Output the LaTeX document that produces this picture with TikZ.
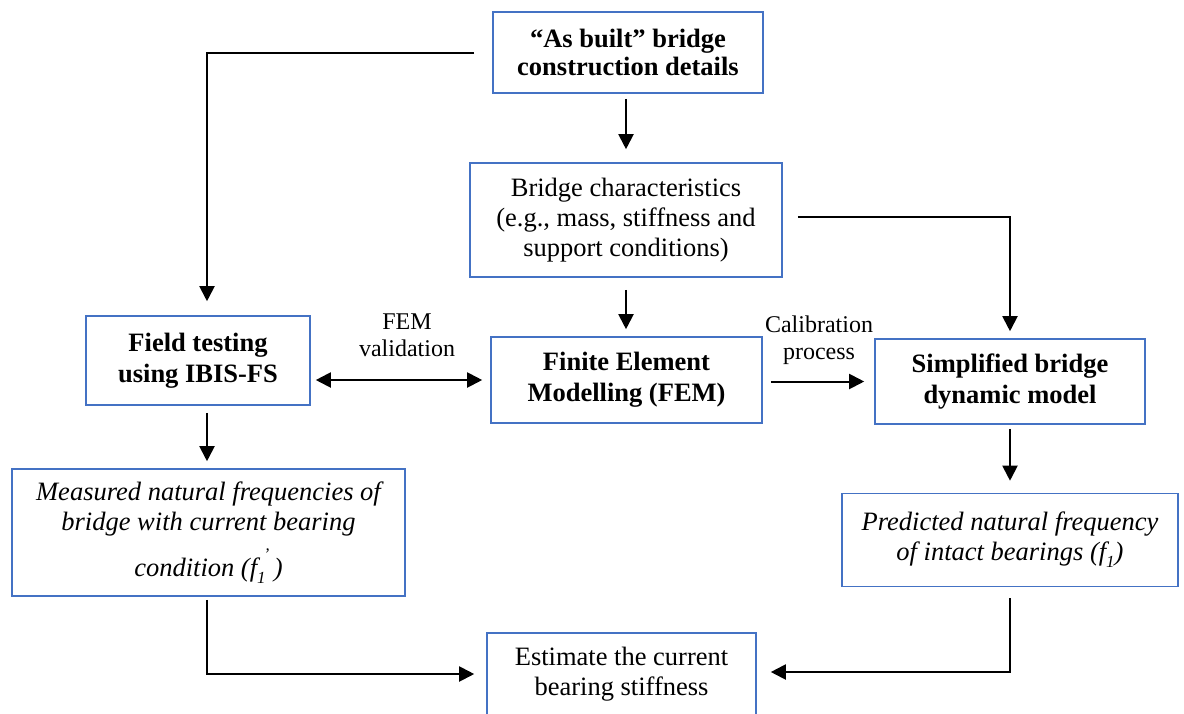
\documentclass[tikz,border=0pt]{standalone}
\usepackage{fontspec}
\setmainfont{Liberation Serif}
\usetikzlibrary{arrows.meta,calc}
\definecolor{boxblue}{RGB}{68,114,196}
\begin{document}
\begin{tikzpicture}[x=1pt,y=-1pt,
 box/.style={draw=boxblue,line width=1.6pt,align=center,inner sep=0pt,font=\fontsize{26.5}{30}\selectfont},
 bbox/.style={box,font=\fontsize{26.5}{31}\selectfont\bfseries},
 ibox/.style={box,font=\fontsize{26.5}{30}\selectfont\itshape},
 lbl/.style={align=center,inner sep=0pt,font=\fontsize{24}{27}\selectfont},
 conn/.style={line width=2pt},
 arr/.style={conn,-{Triangle[length=15pt,width=15pt]}},
 darr/.style={conn,{Triangle[length=15pt,width=15pt]}-{Triangle[length=15pt,width=15pt]}}]
\useasboundingbox (0,0) rectangle (1184,713);

\node[bbox,minimum width=270pt,minimum height=81pt] (top) at (628,52.5) {\raisebox{-3pt}{“As built” bridge}\\construction details};
\node[box,minimum width=312pt,minimum height=114pt] (char) at (626,220) {Bridge characteristics\\(e.g., mass, stiffness and\\support conditions)};
\node[bbox,minimum width=224pt,minimum height=89pt] (field) at (198,360.5) {Field testing\\using IBIS-FS};
\node[bbox,minimum width=271pt,minimum height=86pt] (fem) at (626.5,380) {Finite Element\\Modelling (FEM)};
\node[bbox,minimum width=270pt,minimum height=85pt] (simp) at (1010,381.5) {Simplified bridge\\dynamic model};
\node[ibox,minimum width=393pt,minimum height=127pt] (meas) at (208.5,532.5) {Measured natural frequencies of\\bridge with current bearing\\[12pt]condition (f\raisebox{-7pt}{\fontsize{17}{17}\selectfont 1}\raisebox{26pt}{\fontsize{17}{17}\selectfont ,}\kern4pt)};
\node[ibox,minimum width=336pt,minimum height=93pt] (pred) at (1010,540) {Predicted natural frequency\\of intact bearings (f\raisebox{-7pt}{\fontsize{17}{17}\selectfont 1})};
\node[box,minimum width=269pt,minimum height=82pt] (est) at (621.5,674) {Estimate the current\\bearing stiffness};

\node[lbl] (lv) at (407,335) {FEM\\validation};
\node[lbl] (lc) at (819,340) {Calibration\\process};

\draw[arr] ([xshift=-18pt]top.west) -| ([xshift=9pt,yshift=14pt]field.north);
\draw[arr,shorten <=5pt,shorten >=13pt] (top.south -| char.north) -- (char.north);
\draw[arr,shorten <=12pt,shorten >=7pt] (char.south) -- (char.south |- fem.north);
\draw[arr] ([xshift=15pt,yshift=3pt]char.east) -| ([yshift=7pt]simp.north);
\draw[darr,shorten <=5pt,shorten >=8pt] (field.east |- fem.west) -- (fem.west);
\draw[arr,shorten <=8pt,shorten >=10pt] (fem.east |- simp.west) -- (simp.west);
\draw[arr,shorten <=7pt,shorten >=7pt] ([xshift=9pt]field.south) -- ([xshift=9pt]field.south |- meas.north);
\draw[arr,shorten <=4pt,shorten >=12pt] (simp.south) -- (simp.south |- pred.north);
\draw[arr] ([xshift=-1.5pt,yshift=-3pt]meas.south) |- ([xshift=-12pt]est.west);
\draw[arr] ([yshift=-11pt]pred.south) |- ([xshift=14pt,yshift=2pt]est.east);
\end{tikzpicture}
\end{document}
